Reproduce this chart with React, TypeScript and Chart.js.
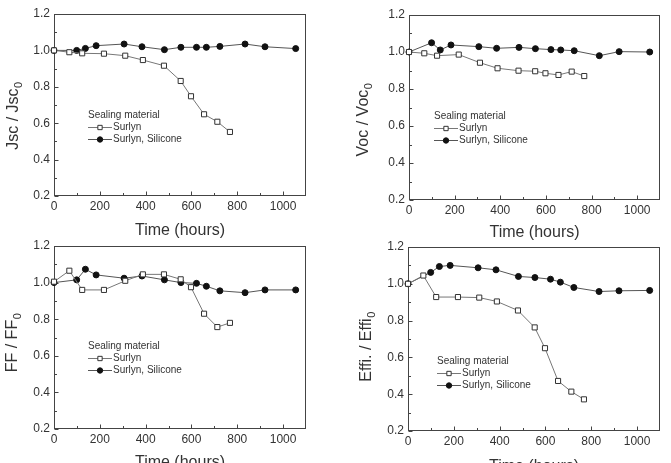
import React, { useEffect, useRef } from 'react';
import { Chart, registerables } from 'chart.js';

Chart.register(...registerables);

// ---------- data ----------
const surlynHours = [0, 67, 123, 218, 311, 388, 480, 553, 598, 655, 713, 768];
const siliconeHours = [0, 99, 137, 184, 306, 384, 482, 554, 622, 665, 724, 834, 921, 1055];

const jscSurlyn = [1.0, 0.99, 0.984, 0.982, 0.971, 0.947, 0.916, 0.832, 0.748, 0.649, 0.608, 0.552];
const jscSilicone = [1.0, 1.0, 1.011, 1.026, 1.035, 1.02, 1.004, 1.017, 1.017, 1.017, 1.022, 1.035, 1.02, 1.01];

const vocSurlyn = [1.0, 0.993, 0.98, 0.986, 0.942, 0.912, 0.899, 0.896, 0.885, 0.876, 0.894, 0.87];
const vocSilicone = [1.0, 1.05, 1.011, 1.038, 1.029, 1.02, 1.025, 1.018, 1.013, 1.011, 1.007, 0.98, 1.002, 1.0];

const ffSurlyn = [1.005, 1.065, 0.96, 0.96, 1.01, 1.045, 1.045, 1.018, 0.975, 0.83, 0.757, 0.78];
const ffSilicone = [1.0, 1.015, 1.073, 1.042, 1.024, 1.036, 1.015, 1.0, 0.996, 0.98, 0.955, 0.945, 0.96, 0.96];

const effSurlyn = [1.0, 1.045, 0.928, 0.928, 0.925, 0.904, 0.855, 0.763, 0.65, 0.472, 0.414, 0.372];
const effSilicone = [1.0, 1.062, 1.094, 1.1, 1.087, 1.076, 1.04, 1.034, 1.025, 1.009, 0.98, 0.958, 0.962, 0.964];

const xTickValues = [0, 200, 400, 600, 800, 1000];
const yTickValues = [0.2, 0.4, 0.6, 0.8, 1.0, 1.2];
const xMinorValues = [0, 100, 200, 300, 400, 500, 600, 700, 800, 900, 1000];
const yMinorValues = [0.2, 0.3, 0.4, 0.5, 0.6, 0.7, 0.8, 0.9, 1.0, 1.1, 1.2];
const seriesLabels = ['Surlyn', 'Surlyn, Silicone'];
const legendTitle = 'Sealing material';
const xTitleText = 'Time (hours)';

const FONT = '"Liberation Sans", Arial, Helvetica, sans-serif';
const TEXT = '#333';
const CANVAS_H = 240;

type PanelSpec = {
  key: string;
  yMain: string;
  ySub: string;
  surlyn: number[];
  silicone: number[];
  left: number;
  top: number;
  width: number;
  plotLeft: number;
  plotTop: number;
  plotRight: number;
  plotBottom: number;
  xTitleOffset: number;
  yTitleX: number;
  yTitleY: number;
  legendX: number;
  legendY: number;
};

const panels: PanelSpec[] = [
  {
    key: 'jsc', yMain: 'Jsc / Jsc', ySub: '0', surlyn: jscSurlyn, silicone: jscSilicone,
    left: 0, top: 0, width: 335, plotLeft: 54, plotTop: 14, plotRight: 306, plotBottom: 196,
    xTitleOffset: 9, yTitleX: 14, yTitleY: 116, legendX: 88, legendY: 115,
  },
  {
    key: 'voc', yMain: 'Voc / Voc', ySub: '0', surlyn: vocSurlyn, silicone: vocSilicone,
    left: 350, top: 0, width: 321, plotLeft: 59, plotTop: 15, plotRight: 310, plotBottom: 200,
    xTitleOffset: 7, yTitleX: 14, yTitleY: 120, legendX: 84, legendY: 116,
  },
  {
    key: 'ff', yMain: 'FF / FF', ySub: '0', surlyn: ffSurlyn, silicone: ffSilicone,
    left: 0, top: 232, width: 335, plotLeft: 54, plotTop: 14, plotRight: 306, plotBottom: 197,
    xTitleOffset: 9, yTitleX: 13, yTitleY: 111, legendX: 88, legendY: 114,
  },
  {
    key: 'eff', yMain: 'Effi. / Effi', ySub: '0', surlyn: effSurlyn, silicone: effSilicone,
    left: 350, top: 232, width: 321, plotLeft: 58, plotTop: 15, plotRight: 310, plotBottom: 199,
    xTitleOffset: 5, yTitleX: 17, yTitleY: 115, legendX: 87, legendY: 129,
  },
];

const framePlugin = {
  id: 'frameTicks',
  beforeDatasetsDraw(chart: any) {
    const { ctx, chartArea } = chart;
    const xs = chart.scales.x;
    const ys = chart.scales.y;
    ctx.save();
    ctx.strokeStyle = '#444';
    ctx.lineWidth = 1;
    const l = Math.round(chartArea.left) + 0.5;
    const t = Math.round(chartArea.top) + 0.5;
    const r = Math.round(chartArea.right) - 0.5;
    const b = Math.round(chartArea.bottom) - 0.5;
    ctx.strokeRect(l, t, r - l, b - t);
    ctx.beginPath();
    xMinorValues.forEach((v) => {
      const px = Math.round(xs.getPixelForValue(v)) + 0.5;
      const len = v % 200 === 0 ? 4 : 2.5;
      ctx.moveTo(px, b);
      ctx.lineTo(px, b - len);
    });
    yMinorValues.forEach((v, i) => {
      const py = Math.round(ys.getPixelForValue(v)) + 0.5;
      const len = i % 2 === 0 ? 4 : 2.5;
      ctx.moveTo(l, py);
      ctx.lineTo(l + len, py);
    });
    ctx.stroke();
    ctx.restore();
  },
};

const yTitlePlugin = {
  id: 'yTitleSub',
  afterDraw(chart: any, _args: any, opts: any) {
    const ctx = chart.ctx;
    ctx.save();
    ctx.translate(opts.x, opts.y);
    ctx.rotate(-Math.PI / 2);
    ctx.fillStyle = TEXT;
    ctx.textBaseline = 'middle';
    ctx.textAlign = 'left';
    ctx.font = `16px ${FONT}`;
    const w1 = ctx.measureText(opts.main).width;
    ctx.font = `11px ${FONT}`;
    const w2 = ctx.measureText(opts.sub).width;
    const start = -(w1 + w2) / 2;
    ctx.font = `16px ${FONT}`;
    ctx.fillText(opts.main, start, 0);
    ctx.font = `11px ${FONT}`;
    ctx.fillText(opts.sub, start + w1 + 0.5, 5);
    ctx.restore();
  },
};

const legendPlugin = {
  id: 'innerLegend',
  afterDraw(chart: any, _args: any, opts: any) {
    const ctx = chart.ctx;
    const x = opts.x;
    const y = opts.y;
    ctx.save();
    ctx.fillStyle = TEXT;
    ctx.font = `10px ${FONT}`;
    ctx.textBaseline = 'middle';
    ctx.textAlign = 'left';
    ctx.fillText(legendTitle, x, y);
    chart.data.datasets.forEach((ds: any, i: number) => {
      const ry = y + 12 * (i + 1);
      ctx.strokeStyle = ds.borderColor;
      ctx.lineWidth = ds.borderWidth;
      ctx.beginPath();
      ctx.moveTo(x, ry + 0.5);
      ctx.lineTo(x + 24, ry + 0.5);
      ctx.stroke();
      const mx = x + 12;
      ctx.fillStyle = ds.pointBackgroundColor;
      ctx.strokeStyle = ds.pointBorderColor;
      ctx.lineWidth = 1;
      ctx.beginPath();
      if (ds.pointStyle === 'rect') {
        const s = ds.pointRadius * Math.SQRT1_2 * 0.85;
        ctx.rect(mx - s, ry + 0.5 - s, 2 * s, 2 * s);
      } else {
        ctx.arc(mx, ry + 0.5, ds.pointRadius * 0.9, 0, Math.PI * 2);
      }
      ctx.fill();
      ctx.stroke();
      ctx.fillStyle = TEXT;
      ctx.font = `10px ${FONT}`;
      ctx.fillText(ds.label, x + 25, ry);
    });
    ctx.restore();
  },
};

function Panel({ spec }: { spec: PanelSpec }) {
  const ref = useRef<HTMLCanvasElement | null>(null);
  useEffect(() => {
    if (!ref.current) return;
    const chart = new Chart(ref.current, {
      type: 'line',
      data: {
        datasets: [
          {
            label: seriesLabels[0],
            data: surlynHours.map((h, i) => ({ x: h, y: spec.surlyn[i] })),
            borderColor: '#777',
            borderWidth: 1,
            pointStyle: 'rect',
            pointRadius: 3.6,
            pointBackgroundColor: '#fff',
            pointBorderColor: '#333',
            pointBorderWidth: 1,
            tension: 0,
            clip: false,
          } as any,
          {
            label: seriesLabels[1],
            data: siliconeHours.map((h, i) => ({ x: h, y: spec.silicone[i] })),
            borderColor: '#555',
            borderWidth: 1,
            pointStyle: 'circle',
            pointRadius: 3,
            pointBackgroundColor: '#111',
            pointBorderColor: '#111',
            pointBorderWidth: 1,
            tension: 0,
            clip: false,
          } as any,
        ],
      },
      options: {
        responsive: false,
        animation: false,
        events: [],
        layout: {
          padding: { left: 0, top: spec.plotTop, right: spec.width - spec.plotRight, bottom: 0 },
        },
        plugins: {
          legend: { display: false },
          tooltip: { enabled: false },
          yTitleSub: { x: spec.yTitleX, y: spec.yTitleY, main: spec.yMain, sub: spec.ySub },
          innerLegend: { x: spec.legendX, y: spec.legendY },
        } as any,
        scales: {
          x: {
            type: 'linear',
            min: 0,
            max: 1100,
            afterBuildTicks: (s: any) => {
              s.ticks = xTickValues.map((v) => ({ value: v }));
            },
            afterFit: (s: any) => {
              s.height = CANVAS_H - spec.plotBottom;
            },
            grid: { display: false, drawTicks: false },
            border: { display: false },
            ticks: {
              padding: 3,
              autoSkip: false,
              maxRotation: 0,
              color: TEXT,
              font: { size: 12, family: FONT },
              callback: (v: any) => String(v),
            },
            title: {
              display: true,
              text: xTitleText,
              color: TEXT,
              font: { size: 16, family: FONT, lineHeight: 1 },
              padding: { top: 0, bottom: spec.xTitleOffset - 8 },
            },
          },
          y: {
            type: 'linear',
            min: 0.2,
            max: 1.2,
            afterBuildTicks: (s: any) => {
              s.ticks = yTickValues.map((v) => ({ value: v }));
            },
            afterFit: (s: any) => {
              s.width = spec.plotLeft;
            },
            grid: { display: false, drawTicks: false },
            border: { display: false },
            ticks: {
              padding: 4,
              autoSkip: false,
              color: TEXT,
              font: { size: 12, family: FONT },
              callback: (v: any) => Number(v).toFixed(1),
            },
          },
        },
      },
      plugins: [framePlugin, yTitlePlugin, legendPlugin],
    });
    return () => chart.destroy();
  }, [spec]);
  return (
    <canvas
      ref={ref}
      width={spec.width}
      height={CANVAS_H}
      style={{ position: 'absolute', left: spec.left, top: spec.top, width: spec.width, height: CANVAS_H }}
    />
  );
}

export default function App() {
  return (
    <div
      style={{
        position: 'absolute',
        left: 0,
        top: 0,
        width: 671,
        height: 463,
        overflow: 'hidden',
        background: '#fff',
      }}
    >
      {panels.map((p) => (
        <Panel key={p.key} spec={p} />
      ))}
    </div>
  );
}
